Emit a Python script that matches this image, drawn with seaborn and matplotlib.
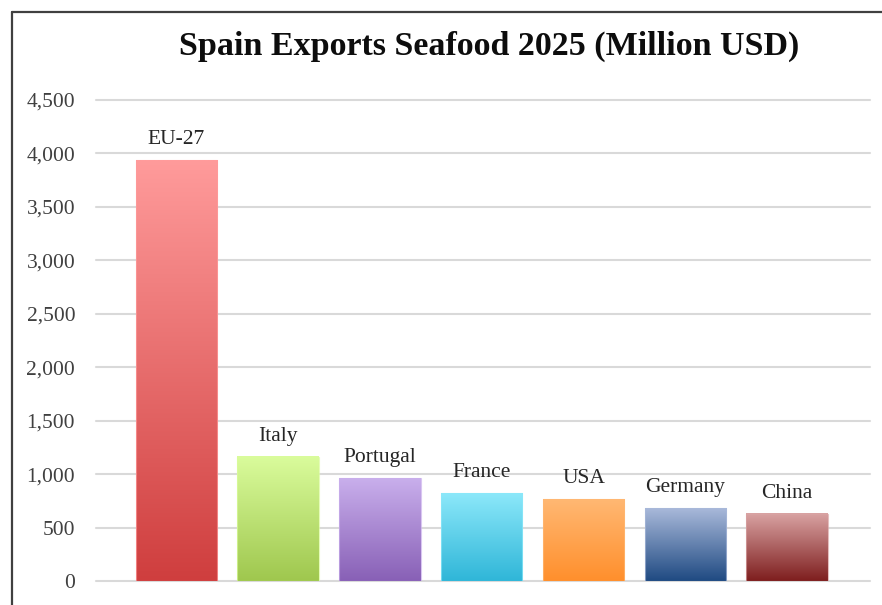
import numpy as np
import pandas as pd
import matplotlib
matplotlib.use("Agg")
import matplotlib.pyplot as plt
import seaborn as sns
from matplotlib.colors import LinearSegmentedColormap
from matplotlib.ticker import FuncFormatter
from matplotlib.lines import Line2D

# Data
countries = ["EU-27", "Italy", "Portugal", "France", "USA", "Germany", "China"]
values = [3935, 1163, 960, 820, 765, 680, 630]
top_colors = ["#FF9B9B", "#DAFC9C", "#C9AFEC", "#8CE8FA", "#FFB873", "#A9B9DA", "#D9A3A3"]
bottom_colors = ["#CF3E3E", "#9FC74E", "#8860B6", "#2FB6D8", "#FF8F2C", "#1F4A82", "#7E1E1E"]
yticks = [0, 500, 1000, 1500, 2000, 2500, 3000, 3500, 4000, 4500]
title = "Spain Exports Seafood 2025 (Million USD)"

sns.set_theme(style="white")
plt.rcParams["font.family"] = ["Liberation Serif", "DejaVu Serif"]

df = pd.DataFrame({"country": countries, "value": values})

fig = plt.figure(figsize=(8.82, 6.05), dpi=100)
ax = fig.add_axes([96 / 882, (605 - 581) / 605, 774 / 882, 481 / 605])

sns.barplot(data=df, x="country", y="value", order=countries, ax=ax,
            width=0.8, color="white", saturation=1)

ax.set_ylim(0, 4500)
ax.set_yticks(yticks)
ax.yaxis.set_major_formatter(FuncFormatter(lambda v, p: f"{int(v):,}"))
ax.tick_params(axis="y", length=0, pad=15, labelsize=15.5, labelcolor="#404040")
ax.tick_params(axis="x", length=0, labelbottom=False)
ax.set_xlabel("")
ax.set_ylabel("")
for s in ax.spines.values():
    s.set_visible(False)
ax.grid(axis="y", color="#D9D9D9", linewidth=1.5, zorder=0)
for gl in ax.get_ygridlines():
    gl.set_clip_on(False)
ax.set_axisbelow(True)

grad = np.linspace(0, 1, 256).reshape(-1, 1)
for patch, tc, bc, name, v in zip(ax.patches, top_colors, bottom_colors, countries, values):
    x = patch.get_x()
    w = patch.get_width()
    h = patch.get_height()
    cmap = LinearSegmentedColormap.from_list(name, [bc, tc])
    patch.set_facecolor("none")
    patch.set_edgecolor("none")
    ax.imshow(grad, extent=[x, x + w, 0, h], origin="lower", aspect="auto",
              cmap=cmap, zorder=2, interpolation="bilinear")
    ax.add_patch(plt.Rectangle((x, 0), w, h, fill=False, edgecolor=tc,
                               linewidth=0.8, alpha=0.7, zorder=3))
    ax.annotate(name, (x + w / 2, h), xytext=(0, 11.5), textcoords="offset points",
                ha="center", va="baseline", fontsize=15.5, color="#262626")

ax.set_xlim(-0.79, 6.815)
ax.set_ylim(0, 4500)
ax.set_aspect("auto")

fig.text(489 / 882, 1 - 46 / 605, title, ha="center", va="center",
         fontsize=24.5, fontweight="bold", color="#0D0D0D")

# outer frame (top and left)
fig.add_artist(Line2D([11.5 / 882, 1.0], [1 - 11.5 / 605, 1 - 11.5 / 605],
                      transform=fig.transFigure, color="#404040", linewidth=1.6))
fig.add_artist(Line2D([11.5 / 882, 11.5 / 882], [0, 1 - 11.5 / 605],
                      transform=fig.transFigure, color="#404040", linewidth=1.6))

fig.savefig("out.png", dpi=100)
